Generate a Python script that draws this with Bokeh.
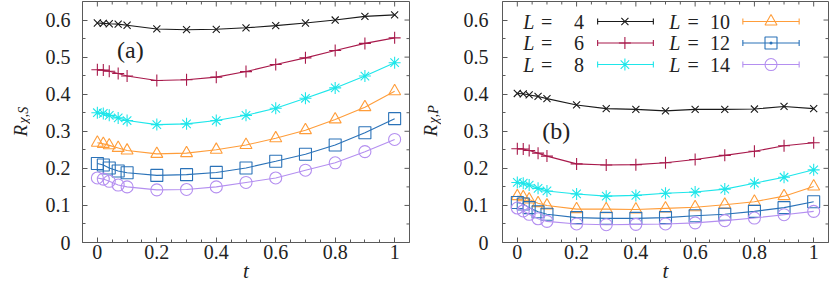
import math
from bokeh.plotting import figure
from bokeh.layouts import row
from bokeh.models import FixedTicker, Range1d, CustomJSTickFormatter
from bokeh.embed import file_html
from bokeh.resources import INLINE
from bokeh.core.properties import value

# ---------------- data ----------------
t = [0, 0.02, 0.04, 0.07, 0.1, 0.2, 0.3, 0.4, 0.5, 0.6, 0.7, 0.8, 0.9, 1.0]
L_values = [4, 6, 8, 10, 12, 14]

# panel (a): R_{chi,S}
RS_L4 = [0.592, 0.591, 0.590, 0.589, 0.586, 0.576, 0.574, 0.575, 0.579, 0.585, 0.592, 0.600, 0.610, 0.614]
RS_L6 = [0.466, 0.465, 0.462, 0.456, 0.449, 0.437, 0.439, 0.446, 0.461, 0.480, 0.498, 0.518, 0.537, 0.552]
RS_L8 = [0.350, 0.348, 0.343, 0.336, 0.329, 0.318, 0.320, 0.329, 0.343, 0.362, 0.389, 0.417, 0.449, 0.485]
RS_L10 = [0.269, 0.266, 0.262, 0.255, 0.248, 0.239, 0.241, 0.250, 0.263, 0.281, 0.303, 0.332, 0.365, 0.408]
RS_L12 = [0.213, 0.209, 0.201, 0.193, 0.188, 0.181, 0.183, 0.189, 0.201, 0.219, 0.238, 0.263, 0.296, 0.334]
RS_L14 = [0.174, 0.171, 0.165, 0.155, 0.150, 0.142, 0.143, 0.150, 0.162, 0.174, 0.195, 0.215, 0.245, 0.278]

# panel (b): R_{chi,P}
RP_L4 = [0.402, 0.401, 0.398, 0.394, 0.388, 0.371, 0.361, 0.359, 0.355, 0.359, 0.359, 0.360, 0.367, 0.361]
RP_L6 = [0.253, 0.252, 0.248, 0.241, 0.233, 0.212, 0.209, 0.210, 0.215, 0.224, 0.235, 0.246, 0.261, 0.269]
RP_L8 = [0.162, 0.160, 0.155, 0.146, 0.139, 0.131, 0.125, 0.127, 0.133, 0.136, 0.144, 0.160, 0.176, 0.196]
RP_L10 = [0.125, 0.122, 0.116, 0.106, 0.100, 0.090, 0.090, 0.089, 0.092, 0.095, 0.102, 0.110, 0.125, 0.151]
RP_L12 = [0.108, 0.104, 0.094, 0.083, 0.076, 0.067, 0.065, 0.065, 0.067, 0.072, 0.076, 0.084, 0.094, 0.110]
RP_L14 = [0.093, 0.085, 0.076, 0.064, 0.057, 0.050, 0.048, 0.049, 0.050, 0.053, 0.059, 0.066, 0.075, 0.084]

x_ticks = [0, 0.2, 0.4, 0.6, 0.8, 1.0]
y_ticks = [0, 0.1, 0.2, 0.3, 0.4, 0.5, 0.6]

# ---------------- style ----------------
colors = ["#1a1a1a", "#a8194b", "#1ee6ea", "#ff9d3a", "#2a72b8", "#b48ff0"]
markers = ["x", "cross", "asterisk", "triangle", "square", "circle"]
msizes = [10, 12, 12, 12, 12, 12]
SERIF = "Liberation Serif"
FRAME = "#5a5a5a"
TXT = "#222222"
H = 292
MB_TOP, MB_BOTTOM = 1, 50
FH = H - MB_TOP - MB_BOTTOM          # frame height in px
X0, X1 = -0.05, 1.05
Y0, Y1 = 0.0, 0.65

x_minor = [round(0.05 * i, 2) for i in range(21) if i % 4]
y_minor = [round(0.05 * i, 2) for i in range(13) if i % 2]

fmt = CustomJSTickFormatter(code="return String(Number(tick.toFixed(2)));")


def ylabel_fig(width, base_x, sub):
    # a narrow text-only figure; its frame is aligned with the neighbouring plot frame
    f = figure(width=width, height=H, output_backend="svg", toolbar_location=None,
               x_range=Range1d(0, width), y_range=Range1d(0, FH),
               x_axis_location=None, y_axis_location=None,
               min_border_left=0, min_border_right=0,
               min_border_top=MB_TOP, min_border_bottom=MB_BOTTOM)
    f.grid.visible = False
    f.outline_line_color = None
    f.text([base_x], [FH + MB_TOP - 136], text=["R"], angle=math.pi / 2, text_font=value(SERIF),
           text_font_style="italic", text_font_size="19px", text_color=TXT,
           text_align="left", text_baseline="alphabetic")
    f.text([base_x + 2.5], [FH + MB_TOP - 123], text=[sub], angle=math.pi / 2, text_font=value(SERIF),
           text_font_style="italic", text_font_size="14px", text_color=TXT,
           text_align="left", text_baseline="alphabetic")
    return f


def make_panel(series, width, mb_left, mb_right, fw, ystand, tag, tag_x, tag_y, legend=False):
    p = figure(width=width, height=H, output_backend="svg", toolbar_location=None,
               x_range=Range1d(X0, X1), y_range=Range1d(Y0, Y1),
               min_border_left=mb_left, min_border_right=mb_right,
               min_border_top=MB_TOP, min_border_bottom=MB_BOTTOM)
    p.grid.visible = False
    p.outline_line_color = FRAME
    p.outline_line_width = 1
    p.background_fill_color = "white"
    p.border_fill_color = "white"

    p.xaxis.ticker = FixedTicker(ticks=x_ticks, minor_ticks=x_minor)
    p.yaxis.ticker = FixedTicker(ticks=y_ticks, minor_ticks=y_minor)
    p.xaxis.formatter = fmt
    p.yaxis.formatter = fmt
    for ax in (p.xaxis[0], p.yaxis[0]):
        ax.axis_line_color = FRAME
        ax.major_tick_line_color = FRAME
        ax.minor_tick_line_color = FRAME
        ax.major_tick_out = 0
        ax.major_tick_in = 5
        ax.minor_tick_out = 0
        ax.minor_tick_in = 3
        ax.major_label_text_font = SERIF
        ax.major_label_text_font_size = "20px"
        ax.major_label_text_color = TXT
    p.xaxis.major_label_standoff = 2
    p.yaxis.major_label_standoff = ystand
    p.xaxis.axis_label = "t"
    p.xaxis.axis_label_text_font = SERIF
    p.xaxis.axis_label_text_font_style = "italic"
    p.xaxis.axis_label_text_font_size = "21px"
    p.xaxis.axis_label_text_color = TXT
    p.xaxis.axis_label_standoff = -3

    # mirrored inward ticks on the top and right edges
    dx_maj, dx_min = 5 * (X1 - X0) / fw, 3 * (X1 - X0) / fw
    dy_maj, dy_min = 5 * (Y1 - Y0) / FH, 3 * (Y1 - Y0) / FH
    p.segment(x_ticks, [Y1] * len(x_ticks), x_ticks, [Y1 - dy_maj] * len(x_ticks),
              line_color=FRAME, line_width=1)
    p.segment(x_minor, [Y1] * len(x_minor), x_minor, [Y1 - dy_min] * len(x_minor),
              line_color=FRAME, line_width=1)
    p.segment([X1] * len(y_ticks), y_ticks, [X1 - dx_maj] * len(y_ticks), y_ticks,
              line_color=FRAME, line_width=1)
    p.segment([X1] * len(y_minor), y_minor, [X1 - dx_min] * len(y_minor), y_minor,
              line_color=FRAME, line_width=1)

    for ys, c, m, s in zip(series, colors, markers, msizes):
        p.line(t, ys, line_color=c, line_width=1.1)
        p.scatter(t, ys, marker=m, size=s, line_color=c, fill_color=None, line_width=1.1)

    p.text([tag_x], [tag_y], text=[tag], text_font=value(SERIF), text_font_size="24px",
           text_color=TXT, text_align="center", text_baseline="middle")

    if legend:
        rows_y = [0.596, 0.538, 0.480]
        cols = [dict(Lx=0.02, eqx=0.08, nx=0.225, l0=0.271, l1=0.459, mx=0.363),
                dict(Lx=0.513, eqx=0.574, nx=0.718, l0=0.761, l1=0.951, mx=0.856)]
        for i, (Lv, c, m, s) in enumerate(zip(L_values, colors, markers, msizes)):
            col = cols[i // 3]
            yy = rows_y[i % 3]
            p.text([col["Lx"]], [yy], text=["L"], text_font=value(SERIF), text_font_style="italic",
                   text_font_size="20px", text_color=TXT, text_baseline="middle", text_align="left")
            p.text([col["eqx"]], [yy], text=["="], text_font=value(SERIF),
                   text_font_size="20px", text_color=TXT, text_baseline="middle", text_align="left")
            p.text([col["nx"]], [yy], text=[str(Lv)], text_font=value(SERIF),
                   text_font_size="20px", text_color=TXT, text_baseline="middle", text_align="right")
            p.segment([col["l0"]], [yy], [col["l1"]], [yy], line_color=c, line_width=1.1)
            p.scatter([col["l0"], col["l1"]], [yy, yy], marker="dash", angle=math.pi / 2, size=6,
                      line_color=c, line_width=1.1)
            mk = "square_dot" if m == "square" else m
            p.scatter([col["mx"]], [yy], marker=mk, size=s, line_color=c, fill_color=None, line_width=1.1)
    return p


la = ylabel_fig(30, 20, "χ,S")
pa = make_panel([RS_L4, RS_L6, RS_L8, RS_L10, RS_L12, RS_L14], 381, 52, 2, 327, 12,
                "(a)", 0.111, 0.52)
lb = ylabel_fig(30, 19, "χ,P")
pb = make_panel([RP_L4, RP_L6, RP_L8, RP_L10, RP_L12, RP_L14], 389, 61, 2, 326, 14,
                "(b)", 0.131, 0.302, legend=True)

layout = row(la, pa, lb, pb, spacing=0)
open("out.html", "w").write(file_html(layout, INLINE))
